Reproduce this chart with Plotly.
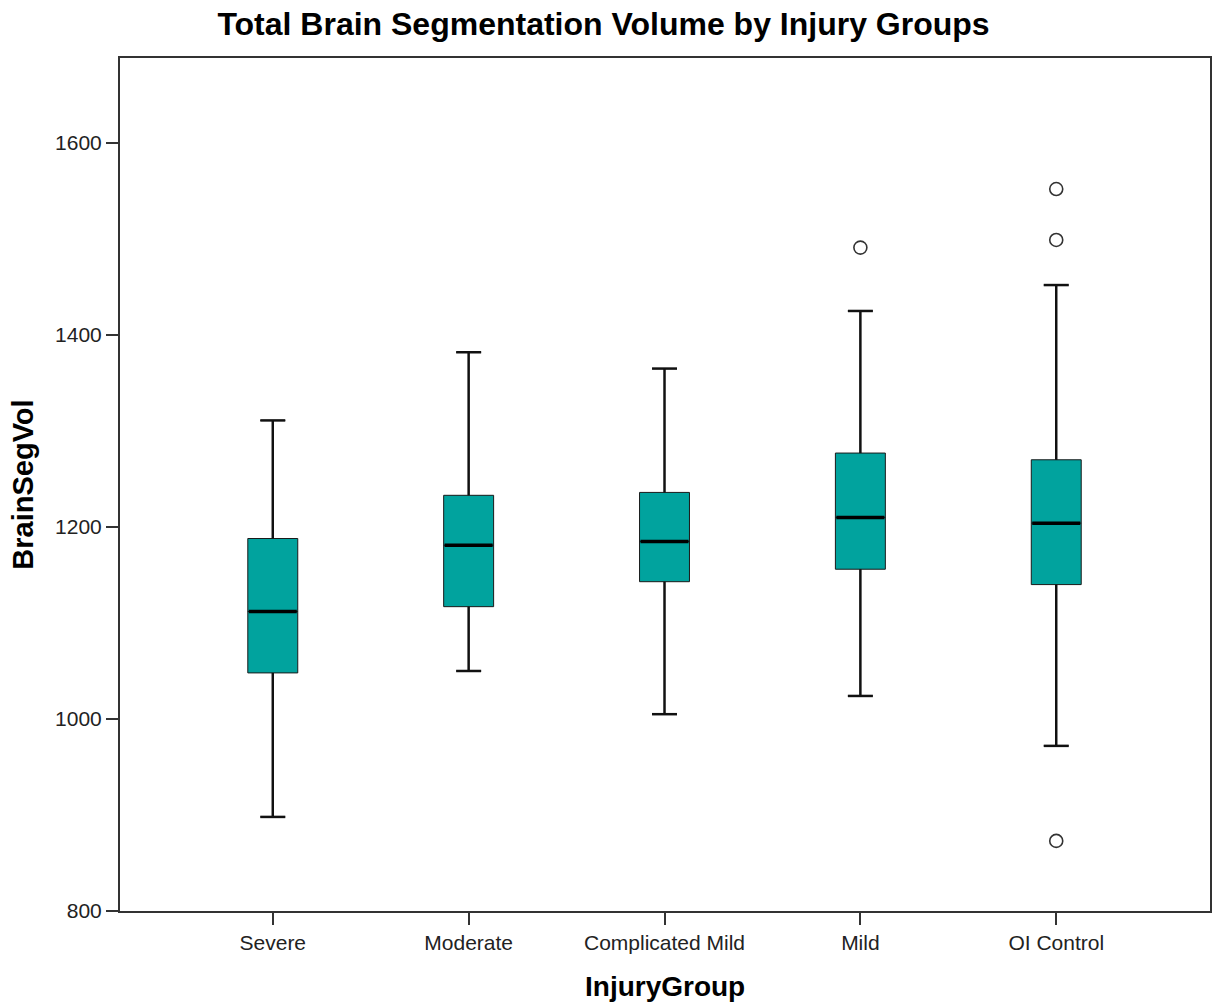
import plotly.graph_objects as go

categories = ["Severe", "Moderate", "Complicated Mild", "Mild", "OI Control"]
q1 = [1048, 1117, 1143, 1156, 1140]
median = [1112, 1181, 1185, 1210, 1204]
q3 = [1188, 1233, 1236, 1277, 1270]
lower_fence = [898, 1050, 1005, 1024, 972]
upper_fence = [1311, 1382, 1365, 1425, 1452]
outlier_groups = ["Mild", "OI Control", "OI Control", "OI Control"]
outlier_values = [1491, 1552, 1499, 873]
y_ticks = [800, 1000, 1200, 1400, 1600]

FILL = "#01A39E"
FONT = "Liberation Sans, Arial, sans-serif"
BOX_W = 0.255
CAP_W = BOX_W / 2

pos = list(range(len(categories)))

fig = go.Figure()
fig.add_trace(go.Box(
    x=pos, q1=q1, median=median, q3=q3,
    lowerfence=lower_fence, upperfence=upper_fence,
    width=BOX_W, whiskerwidth=0.5,
    fillcolor=FILL, line=dict(color="#1a1a1a", width=1),
    showlegend=False, hoverinfo="skip",
))

# thicker whiskers and caps
wx, wy = [], []
for i in pos:
    wx += [i, i, None, i, i, None,
           i - CAP_W / 2, i + CAP_W / 2, None, i - CAP_W / 2, i + CAP_W / 2, None]
    wy += [q3[i], upper_fence[i], None, q1[i], lower_fence[i], None,
           upper_fence[i], upper_fence[i], None, lower_fence[i], lower_fence[i], None]
fig.add_trace(go.Scatter(x=wx, y=wy, mode="lines",
                         line=dict(color="#111111", width=2.5),
                         showlegend=False, hoverinfo="skip"))

# thick medians
mx, my = [], []
for i in pos:
    mx += [i - BOX_W / 2 + 0.005, i + BOX_W / 2 - 0.005, None]
    my += [median[i], median[i], None]
fig.add_trace(go.Scatter(x=mx, y=my, mode="lines",
                         line=dict(color="#000000", width=3.5),
                         showlegend=False, hoverinfo="skip"))

# outliers
fig.add_trace(go.Scatter(
    x=[categories.index(g) for g in outlier_groups], y=outlier_values,
    mode="markers",
    marker=dict(symbol="circle", size=13, color="white",
                line=dict(color="#333333", width=1.6)),
    showlegend=False, hoverinfo="skip",
))

fig.update_layout(
    width=1217, height=1004,
    margin=dict(l=120, r=5, t=58, b=93),
    paper_bgcolor="white", plot_bgcolor="white",
    font=dict(family=FONT, color="#222222", size=21),
    title=dict(text="<b>Total Brain Segmentation Volume by Injury Groups</b>",
               font=dict(family=FONT, size=32, color="#000000"),
               xref="container", yref="container",
               x=603.5 / 1217, xanchor="center",
               y=1 - 24 / 1004, yanchor="middle"),
    xaxis=dict(range=[-0.78, 4.785], tickvals=pos, ticktext=categories,
               showline=True, linecolor="#333333", linewidth=2, mirror=True,
               ticks="outside", ticklen=12, tickwidth=2, tickcolor="#333333",
               showgrid=False, zeroline=False, tickfont=dict(size=21)),
    yaxis=dict(range=[800, 1688.5], tickvals=y_ticks,
               showline=True, linecolor="#333333", linewidth=2, mirror=True,
               ticks="outside", ticklen=12, tickwidth=2, tickcolor="#333333",
               showgrid=False, zeroline=False, tickfont=dict(size=21)),
    annotations=[
        dict(text="<b>InjuryGroup</b>", xref="paper", yref="paper",
             x=0.5, y=-(986 - 911) / (911 - 58), xanchor="center", yanchor="middle",
             showarrow=False, font=dict(family=FONT, size=28, color="#000000")),
        dict(text="<b>BrainSegVol</b>", xref="paper", yref="paper",
             x=-(120 - 22) / (1212 - 120), y=0.5, xanchor="center", yanchor="middle",
             textangle=-90, showarrow=False,
             font=dict(family=FONT, size=29, color="#000000")),
    ],
)

fig.write_html("out.html")
